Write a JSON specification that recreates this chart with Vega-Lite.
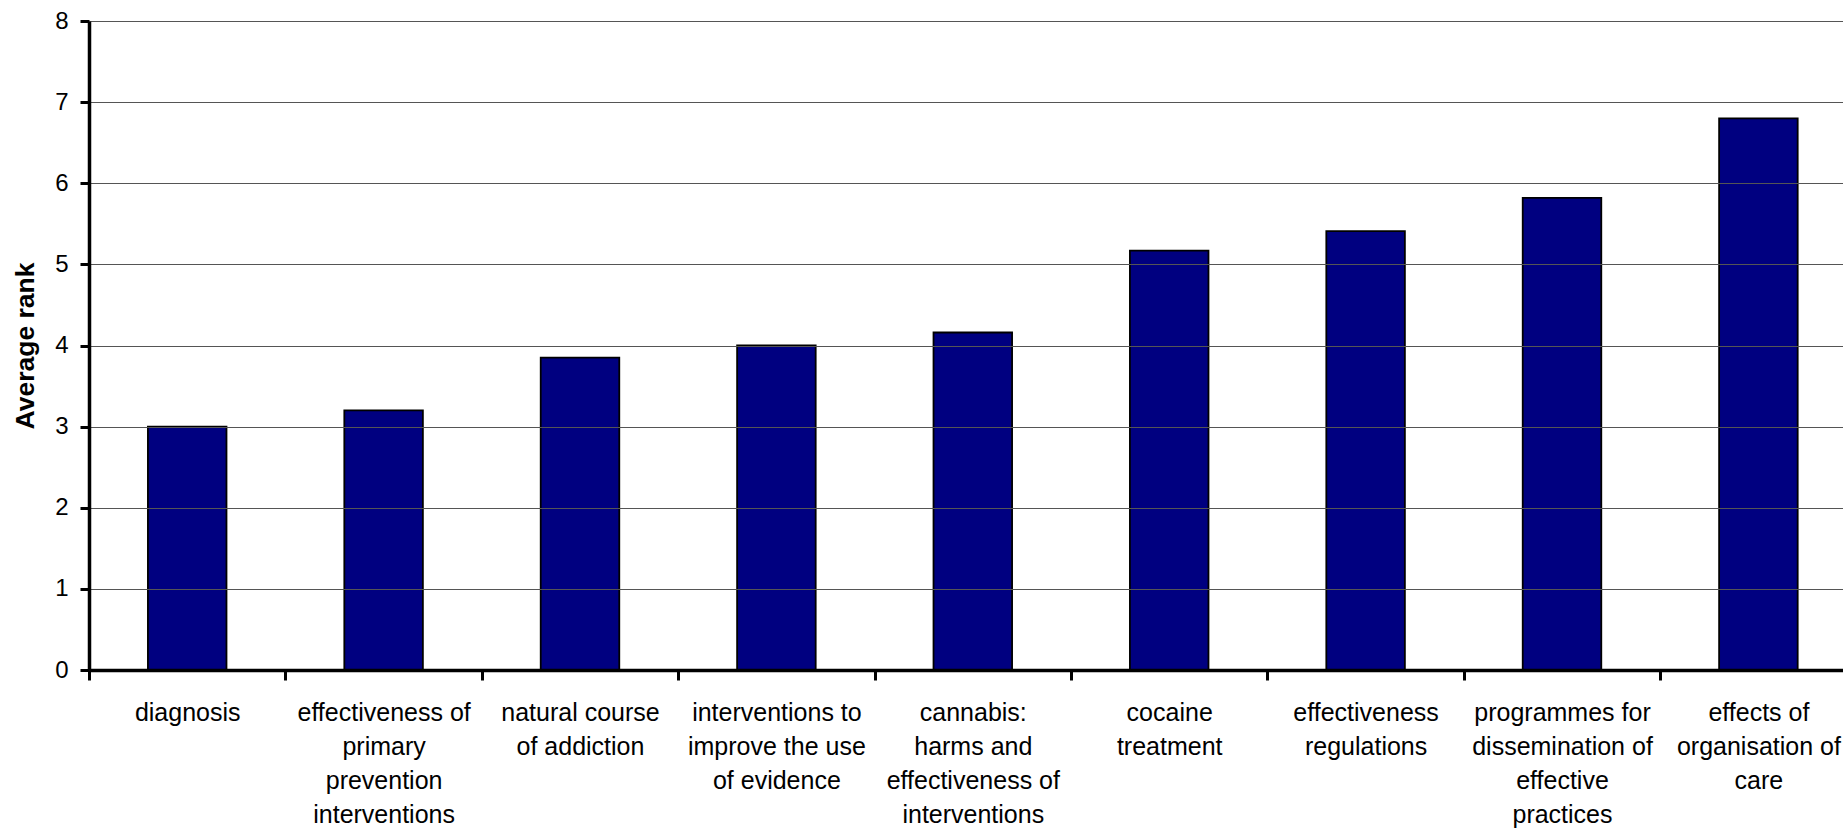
{
  "$schema": "https://vega.github.io/schema/vega-lite/v6.json",
  "autosize": {"type": "none"},
  "width": 1754,
  "height": 649,
  "padding": {"left": 89, "top": 21, "right": 0, "bottom": 161},
  "background": "white",
  "config": {
    "view": {"stroke": null},
    "font": "Liberation Sans"
  },
  "data": {
    "values": [
      {"topic": "diagnosis", "rank": 3.0},
      {"topic": "effectiveness of|primary|prevention|interventions", "rank": 3.2},
      {"topic": "natural course|of addiction", "rank": 3.85},
      {"topic": "interventions to|improve the use|of evidence", "rank": 4.0},
      {"topic": "cannabis:|harms and|effectiveness of|interventions", "rank": 4.16},
      {"topic": "cocaine|treatment", "rank": 5.17},
      {"topic": "effectiveness|regulations", "rank": 5.41},
      {"topic": "programmes for|dissemination of|effective|practices", "rank": 5.82},
      {"topic": "effects of|organisation of|care", "rank": 6.8}
    ]
  },
  "mark": {"type": "bar", "color": "#000080", "stroke": "#000000", "strokeWidth": 1.8},
  "encoding": {
    "x": {
      "field": "topic",
      "type": "nominal",
      "sort": null,
      "scale": {"range": [0, 1767.6], "paddingInner": 0.6, "paddingOuter": 0.3},
      "axis": {
        "title": null,
        "zindex": 1,
        "labelAngle": 0,
        "labelExpr": "split(datum.label, '|')",
        "labelFont": "Liberation Sans",
        "labelFontSize": 25,
        "labelLineHeight": 34,
        "labelColor": "#000000",
        "labelPadding": 20,
        "labelLimit": 400,
        "labelOverlap": false,
        "labelBound": false,
        "labelFlush": false,
        "tickSize": 10,
        "tickWidth": 3,
        "tickColor": "#000000",
        "tickOffset": -98.2,
        "labelOffset": 98.2,
        "domainColor": "#000000",
        "domainWidth": 3.5,
        "grid": false
      }
    },
    "y": {
      "field": "rank",
      "type": "quantitative",
      "scale": {"domain": [0, 8], "nice": false},
      "axis": {
        "title": "Average rank",
        "zindex": 1,
        "titleFont": "Liberation Sans",
        "titleFontSize": 26.5,
        "titleFontWeight": "bold",
        "titleColor": "#000000",
        "titlePadding": 15,
        "values": [0, 1, 2, 3, 4, 5, 6, 7, 8],
        "labelFont": "Liberation Sans",
        "labelFontSize": 24,
        "labelColor": "#000000",
        "labelPadding": 12,
        "labelFlush": false,
        "labelBound": false,
        "tickSize": 9,
        "tickWidth": 3,
        "tickColor": "#000000",
        "domainColor": "#000000",
        "domainWidth": 3.5,
        "grid": true,
        "gridColor": "#555555",
        "gridWidth": 1.2
      }
    }
  }
}
